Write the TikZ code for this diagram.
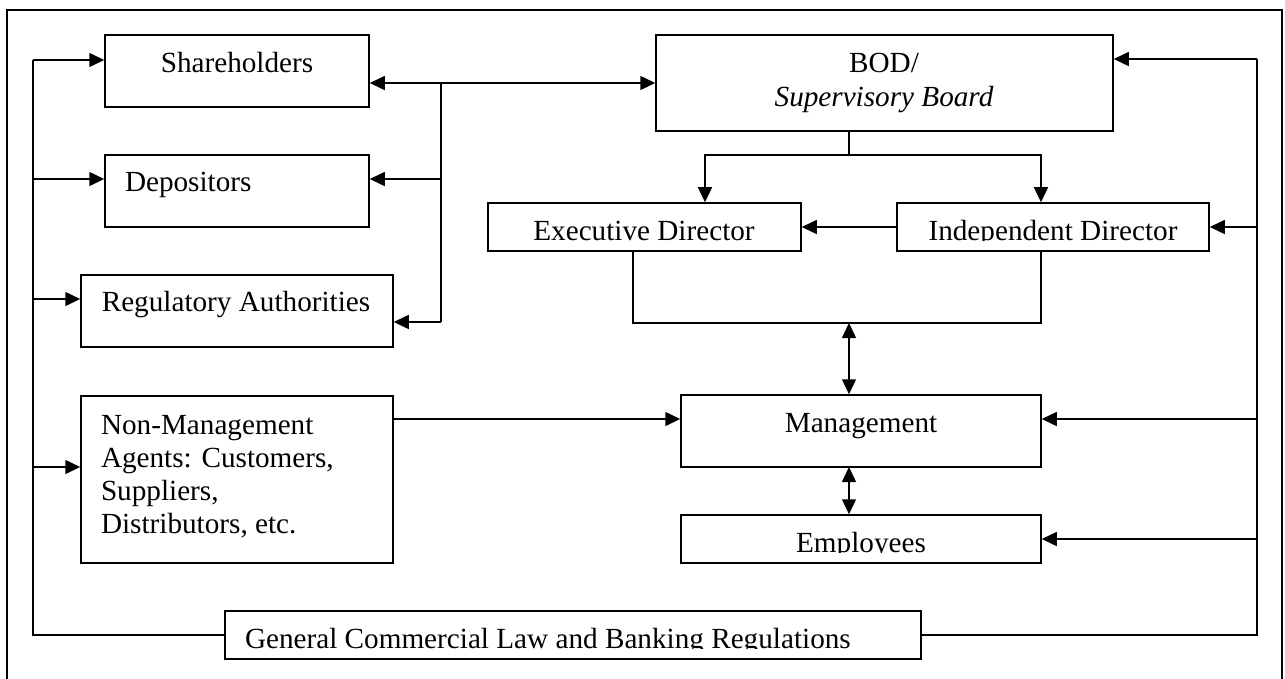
\documentclass[tikz,border=0pt]{standalone}
\usepackage{fontspec}
\setmainfont{Liberation Serif}
\usetikzlibrary{arrows.meta,fit}
\begin{document}
\begin{tikzpicture}[x=0.5pt,y=-0.5pt,
  font=\fontsize{14.6}{16.5}\selectfont,
  box/.style={draw, line width=0.75pt, inner sep=0pt},
  ln/.style={line width=0.75pt},
  arr/.style={ln, -{Triangle[length=7.5pt,width=7pt]}},
  darr/.style={ln, {Triangle[length=7.5pt,width=7pt]}-{Triangle[length=7.5pt,width=7pt]}},
  txt/.style={inner sep=0pt, outer sep=0pt}]
\useasboundingbox (0,0) rectangle (1285,679);
\draw[line width=1pt] (7,679) -- (7,10) -- (1282,10) -- (1282,679);

% boxes
\node[box, fit={(105,35)(369,107)}] (sh) {};
\node[box, fit={(105,155)(369,227)}] (dep) {};
\node[box, fit={(81,275)(393,347)}] (reg) {};
\node[box, fit={(81,396)(393,563)}] (nm) {};
\node[box, fit={(656,35)(1113,131)}] (bod) {};
\node[box, fit={(488,203)(801,251)}] (ed) {};
\node[box, fit={(897,203)(1209,251)}] (id) {};
\node[box, fit={(681,395)(1041,467)}] (mg) {};
\node[box, fit={(681,515)(1041,563)}] (em) {};
\node[box, fit={(225,611)(921,659)}] (gen) {};

% texts
\node[txt, anchor=base] (sht) at (237,73) {Shareholders};
\node[txt, anchor=base] (bodt1) at (884,73) {BOD/};
\node[txt, anchor=base] (bodt2) at (884,107) {\itshape Supervisory Board};
\node[txt, anchor=base west] (dept) at (125,192) {Depositors};
\node[txt, anchor=base] (regt) at (236,312) {Regulatory Authorities};
\node[txt, anchor=base west, align=left] (nmt) at (101,533) {Non-Management\\Agents: Customers,\\Suppliers,\\Distributors, etc.};
\node[txt, anchor=base] (mgt) at (861,432) {Management};
\begin{scope}
  \clip (488,203) rectangle (801,241.5);
  \node[txt, anchor=base] (edt) at (644,241) {Executive Director};
\end{scope}
\begin{scope}
  \clip (897,203) rectangle (1209,241);
  \node[txt, anchor=base] (idt) at (1053,241) {Independent Director};
\end{scope}
\begin{scope}
  \clip (681,515) rectangle (1041,552.5);
  \node[txt, anchor=base] (emt) at (861,552) {Employees};
\end{scope}
\begin{scope}
  \clip (225,611) rectangle (921,648.5);
  \node[txt, anchor=base west] (gent) at (245,648) {General Commercial Law and Banking Regulations};
\end{scope}

% left bus
\coordinate (L1) at (33,60);
\coordinate (L2) at (33,179);
\coordinate (L3) at (33,299);
\coordinate (L4) at (33,467);
\draw[ln] (L1) |- (gen.west);
\draw[arr] (L1) -- (L1 -| sh.west);
\draw[arr] (L2) -- (L2 -| dep.west);
\draw[arr] (L3) -- (L3 -| reg.west);
\draw[arr] (L4) -- (L4 -| nm.west);

% middle bus
\coordinate (M1) at (441,83);
\coordinate (M2) at (441,179);
\coordinate (M3) at (441,322);
\draw[darr] (M1 -| sh.east) -- (M1 -| bod.west);
\draw[ln] (M1) -- (M3);
\draw[arr] (M2) -- (M2 -| dep.east);
\draw[arr] (M3) -- (M3 -| reg.east);

% BOD to directors
\coordinate (B1) at (849,131);
\coordinate (B2) at (849,155);
\coordinate (BE) at (705,155);
\coordinate (BI) at (1041,155);
\draw[ln] (B1) -- (B2);
\draw[arr] (B2) -- (BE) -- (BE |- ed.north);
\draw[arr] (B2) -- (BI) -- (BI |- id.north);
\draw[arr] (id.west) -- (ed.east);

% directors to management
\coordinate (E1) at (633,251);
\coordinate (E2) at (633,323);
\coordinate (I1) at (1041,251);
\coordinate (I2) at (1041,323);
\coordinate (C1) at (849,323);
\draw[ln] (E1) -- (E2) -- (I2) -- (I1);
\draw[darr] (C1) -- (C1 |- mg.north);
\coordinate (C2) at (849,467);
\draw[darr] (C2) -- (C2 |- em.north);

% non-management to management
\coordinate (N1) at (393,419);
\draw[arr] (N1) -- (N1 -| mg.west);

% right bus
\coordinate (R1) at (1257,59);
\coordinate (R2) at (1257,227);
\coordinate (R3) at (1257,419);
\coordinate (R4) at (1257,539);
\draw[ln] (R1) |- (gen.east);
\draw[arr] (R1) -- (R1 -| bod.east);
\draw[arr] (R2) -- (R2 -| id.east);
\draw[arr] (R3) -- (R3 -| mg.east);
\draw[arr] (R4) -- (R4 -| em.east);
\end{tikzpicture}
\end{document}
